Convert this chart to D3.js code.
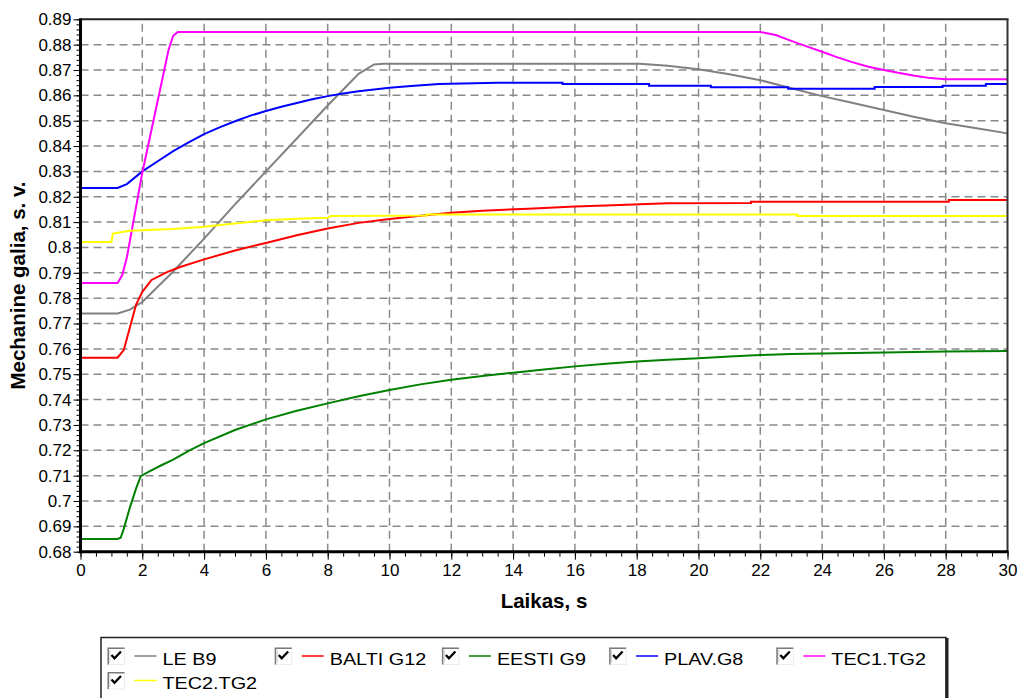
<!DOCTYPE html>
<html>
<head>
<meta charset="utf-8">
<script src="https://cdn.jsdelivr.net/npm/d3@7"></script>
<style>
  body { margin: 0; background: #fff; }
  svg { display: block; }
  text { font-family: "Liberation Sans", Arial, sans-serif; fill: #000; }
</style>
</head>
<body>
<svg id="chart" width="1019" height="698"></svg>
<script>
// Mechanical power of generating units after a disturbance, [time s, p.u.]
const leB9 = [[0,0.774],[1.2,0.774],[1.6,0.7755],[2.0,0.7785],[3.0,0.7905],[4.0,0.8035],[5.0,0.817],[6.0,0.830],[7.0,0.843],[8.0,0.856],[9.0,0.8685],[9.5,0.8722],[9.8,0.8725],[18.1,0.8725],[19,0.8717],[20,0.8703],[21,0.8683],[22,0.866],[23,0.8628],[24,0.8597],[25,0.857],[26,0.8542],[27,0.8515],[28,0.849],[29,0.847],[30,0.845]];
const baltiG12 = [[0,0.7565],[1.2,0.7565],[1.4,0.7595],[1.6,0.7685],[1.8,0.7775],[2.0,0.7825],[2.3,0.7872],[2.8,0.7903],[3.2,0.7922],[4,0.7953],[5,0.7988],[6,0.8018],[7,0.8048],[8,0.8075],[9,0.8097],[10,0.8112],[11,0.8125],[12,0.8137],[13,0.8145],[14.5,0.8153],[16,0.8162],[17,0.8166],[19,0.8174],[21.7,0.8175],[21.7,0.818],[28.1,0.818],[28.1,0.8187],[30,0.8187]];
const eestiG9 = [[0,0.685],[1.2,0.685],[1.3,0.6855],[1.4,0.689],[1.6,0.6975],[1.8,0.705],[1.95,0.7098],[2.2,0.7115],[2.6,0.714],[3,0.7163],[3.5,0.7198],[4,0.7228],[5,0.728],[6,0.7322],[7,0.7356],[8,0.7385],[9,0.7413],[10,0.7438],[11,0.746],[12,0.7478],[13,0.7493],[14,0.7506],[15,0.7519],[16,0.7531],[17,0.7541],[18,0.755],[19,0.7557],[20,0.7563],[21,0.757],[22,0.7576],[23,0.758],[24,0.7582],[26,0.7586],[28,0.759],[30,0.7592]];
const plavG8 = [[0,0.8235],[1.2,0.8235],[1.5,0.825],[2,0.830],[2.5,0.834],[3,0.838],[3.5,0.8415],[4,0.8447],[4.5,0.8474],[5,0.8498],[5.5,0.852],[6,0.8538],[6.5,0.8555],[7,0.857],[7.5,0.8585],[8,0.8597],[8.5,0.8607],[9,0.8616],[9.5,0.8623],[10,0.863],[10.7,0.8637],[11.6,0.8645],[13.5,0.865],[15.6,0.865],[15.6,0.8645],[18.4,0.8645],[18.4,0.8638],[20.4,0.8638],[20.4,0.8632],[22.9,0.8632],[22.9,0.8626],[25.7,0.8626],[25.7,0.8633],[27.9,0.8633],[27.9,0.8638],[29.3,0.8638],[29.3,0.8645],[30,0.8645]];
const tec1TG2 = [[0,0.786],[1.2,0.786],[1.35,0.789],[1.5,0.796],[2,0.8295],[2.5,0.858],[2.85,0.878],[3.0,0.8835],[3.15,0.885],[22,0.885],[22.5,0.8838],[23,0.8815],[23.5,0.8793],[24,0.8772],[24.5,0.875],[25,0.873],[25.5,0.8713],[26,0.870],[26.5,0.8688],[27,0.8677],[27.5,0.8668],[28,0.8664],[30,0.8664]];
const tec2TG2 = [[0,0.8022],[1.0,0.8022],[1.05,0.8055],[1.3,0.806],[1.6,0.8066],[2,0.8068],[3,0.8073],[4,0.8082],[5,0.8095],[6,0.8107],[7,0.8113],[8,0.8117],[8.1,0.8124],[11.2,0.8126],[11.2,0.813],[23.2,0.813],[23.2,0.8124],[30,0.8124]];

const seriesNames = ["LE B9", "BALTI G12", "EESTI G9", "PLAV.G8", "TEC1.TG2", "TEC2.TG2"];
const seriesColors = ["#808080", "#ff0000", "#008000", "#0000ff", "#ff00ff", "#ffff00"];
const seriesData = [leB9, baltiG12, eestiG9, plavG8, tec1TG2, tec2TG2];

const xTicks = d3.range(0, 31, 2);
const yTicks = d3.range(68, 90).map(d => d / 100);
const xTitle = "Laikas, s";
const yTitle = "Mechanine galia, s. v.";

const svg = d3.select("#chart");
const plot = { left: 80.5, right: 1007.5, top: 19.3, bottom: 551.7 };

const x = d3.scaleLinear().domain([0, 30]).range([plot.left, plot.right]);
const y = d3.scaleLinear().domain([0.68, 0.89]).range([plot.bottom, plot.top]);

// dashed grid
const grid = svg.append("g").attr("stroke", "#8a8a8a").attr("stroke-width", 1.5)
  .attr("stroke-dasharray", "8,5").attr("fill", "none");
yTicks.filter(v => v > 0.68 && v < 0.89).forEach(v => {
  grid.append("line").attr("x1", plot.left).attr("x2", plot.right)
    .attr("y1", y(v)).attr("y2", y(v));
});
xTicks.filter(t => t > 0 && t < 30).forEach(t => {
  grid.append("line").attr("x1", x(t)).attr("x2", x(t))
    .attr("y1", plot.bottom).attr("y2", plot.top);
});

// series
const line = d3.line().x(d => x(d[0])).y(d => y(d[1]));
const lines = svg.append("g").attr("fill", "none").attr("stroke-width", 2);
seriesData.forEach((data, i) => {
  lines.append("path").datum(data).attr("d", line).attr("stroke", seriesColors[i]);
});

// frame: thin top/right, thick left/bottom
svg.append("line").attr("x1", plot.left).attr("x2", plot.right + 1)
  .attr("y1", plot.top).attr("y2", plot.top).attr("stroke", "#222").attr("stroke-width", 2);
svg.append("line").attr("x1", plot.right).attr("x2", plot.right)
  .attr("y1", plot.top).attr("y2", plot.bottom).attr("stroke", "#333").attr("stroke-width", 2);

const fmt = v => String(+v.toFixed(2));

// y axis: major + minor ticks
const yMinor = d3.range(340, 446).map(d => d / 500);
const yMinorG = svg.append("g").attr("transform", `translate(${plot.left},0)`)
  .call(d3.axisLeft(y).tickValues(yMinor).tickSize(4).tickFormat(""));
yMinorG.select(".domain").remove();
yMinorG.selectAll("line").attr("stroke", "#000").attr("stroke-width", 1);
const yAxisG = svg.append("g").attr("transform", `translate(${plot.left},0)`)
  .call(d3.axisLeft(y).tickValues(yTicks).tickSize(7).tickPadding(2).tickFormat(fmt));
yAxisG.select(".domain").remove();
yAxisG.selectAll("line").attr("stroke", "#000").attr("stroke-width", 1);
yAxisG.selectAll("text").attr("font-size", 17).attr("font-family", "Liberation Sans, Arial, sans-serif").attr("fill", "#000");

// x axis: major + minor ticks
const xMinor = d3.range(0, 61).map(d => d / 2);
const xMinorG = svg.append("g").attr("transform", `translate(0,${plot.bottom})`)
  .call(d3.axisBottom(x).tickValues(xMinor).tickSize(5).tickFormat(""));
xMinorG.select(".domain").remove();
xMinorG.selectAll("line").attr("stroke", "#000").attr("stroke-width", 1);
const xAxisG = svg.append("g").attr("transform", `translate(0,${plot.bottom})`)
  .call(d3.axisBottom(x).tickValues(xTicks).tickSize(8).tickPadding(4).tickFormat(d3.format("d")));
xAxisG.select(".domain").remove();
xAxisG.selectAll("line").attr("stroke", "#000").attr("stroke-width", 1);
xAxisG.selectAll("text").attr("font-size", 17).attr("font-family", "Liberation Sans, Arial, sans-serif").attr("fill", "#000");

// thick axis lines
svg.append("line").attr("x1", plot.left).attr("x2", plot.left)
  .attr("y1", plot.top - 1).attr("y2", plot.bottom + 1.5).attr("stroke", "#000").attr("stroke-width", 3);
svg.append("line").attr("x1", plot.left - 1.5).attr("x2", plot.right + 1)
  .attr("y1", plot.bottom).attr("y2", plot.bottom).attr("stroke", "#000").attr("stroke-width", 3);

// axis titles
svg.append("text").attr("x", (plot.left + plot.right) / 2).attr("y", 608)
  .attr("text-anchor", "middle").attr("font-size", 20.5).attr("font-weight", "bold").text(xTitle);
svg.append("text").attr("transform", `translate(25,${(plot.top + plot.bottom) / 2}) rotate(-90)`)
  .attr("text-anchor", "middle").attr("font-size", 20.5).attr("font-weight", "bold").text(yTitle);

// legend box with check boxes
const legend = svg.append("g");
legend.append("rect").attr("x", 101).attr("y", 637.5).attr("width", 845).attr("height", 80)
  .attr("fill", "#fff").attr("stroke", "#222").attr("stroke-width", 1.5);
legend.append("rect").attr("x", 945.5).attr("y", 638).attr("width", 3).attr("height", 80).attr("fill", "#222");

const perRow = 5, colW = 167.2, rowH = 24.5;
seriesNames.forEach((name, i) => {
  const col = i % perRow, row = Math.floor(i / perRow);
  const gx = 107.5 + col * colW, gy = 647.5 + row * rowH;
  const g = legend.append("g").attr("transform", `translate(${gx},${gy})`);
  g.append("rect").attr("x", 0.5).attr("y", 0.5).attr("width", 16.5).attr("height", 16.5)
    .attr("fill", "#fff").attr("stroke", "#ececec");
  g.append("path").attr("d", "M0.75,17V0.75H17").attr("fill", "none").attr("stroke", "#7a7a7a").attr("stroke-width", 1.5);
  g.append("path").attr("d", "M2.5,2.5V15").attr("stroke", "#cfcfcf");
  g.append("path").attr("d", "M4,7.5L7,10.8L13.5,4").attr("fill", "none")
    .attr("stroke", "#000").attr("stroke-width", 2.3);
  g.append("line").attr("x1", 27).attr("x2", 49).attr("y1", 8.5).attr("y2", 8.5)
    .attr("stroke", seriesColors[i]).attr("stroke-width", 1.5);
  g.append("text").attr("transform", "translate(55,17) scale(1.2,1)")
    .attr("font-size", 16.5).text(name);
});
</script>
</body>
</html>
